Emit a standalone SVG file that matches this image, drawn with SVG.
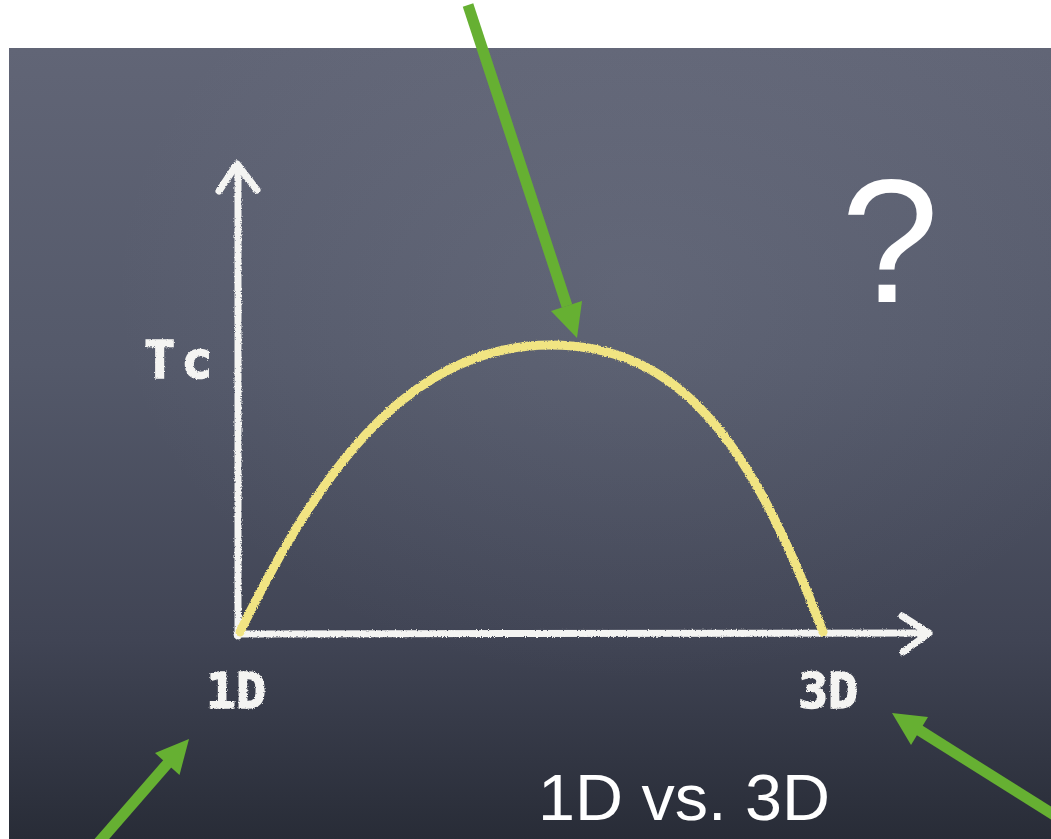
<svg xmlns="http://www.w3.org/2000/svg" width="1051" height="839" viewBox="0 0 1051 839">
<style>
.chalk{fill:none;stroke:#f4f4f2;stroke-width:7;stroke-linecap:round;stroke-linejoin:round;filter:url(#rough)}
.curve{fill:none;stroke:#f1e482;stroke-width:9;stroke-linecap:round;filter:url(#rough)}
.clabel{font-family:"DejaVu Sans Mono","Liberation Mono",monospace;font-weight:bold;fill:#f4f4f2;stroke:#f4f4f2;stroke-width:1.5;filter:url(#rough)}
.title{font-family:"Liberation Sans",Arial,sans-serif;fill:#ffffff}
.garrow{stroke:#66b032;stroke-width:11;fill:none}
.ghead{fill:#66b032}
</style>
<defs>
<linearGradient id="board" x1="0" y1="0" x2="0" y2="1">
<stop offset="0" stop-color="#616576"/>
<stop offset="0.4" stop-color="#54596a"/>
<stop offset="0.75" stop-color="#404454"/>
<stop offset="1" stop-color="#282c37"/>
</linearGradient>
<radialGradient id="haze" cx="0.6" cy="0.3" r="0.5">
<stop offset="0" stop-color="#8a8fa0" stop-opacity="0.18"/>
<stop offset="1" stop-color="#8a8fa0" stop-opacity="0"/>
</radialGradient>
<filter id="rough" filterUnits="userSpaceOnUse" x="0" y="0" width="1051" height="839">
<feTurbulence type="fractalNoise" baseFrequency="0.8" numOctaves="2" seed="3" result="n"/>
<feDisplacementMap in="SourceGraphic" in2="n" scale="3" xChannelSelector="R" yChannelSelector="G"/>
</filter>
</defs>
<rect x="0" y="0" width="1051" height="839" fill="#ffffff"/>
<g id="board-bg">
<rect x="9" y="48" width="1042" height="791" fill="url(#board)"/>
<rect x="9" y="48" width="1042" height="791" fill="url(#haze)"/>
</g>
<g id="axes">
<path class="chalk" d="M238,636 L238,166"/>
<path class="chalk" d="M219,191 L237,164 L257,190"/>
<path class="chalk" d="M237,634 L928,633"/>
<path class="chalk" d="M902,616 L929,633 L903,652"/>
</g>
<g id="curve">
<path class="curve" d="M240,632 C310,490 400,345 550,345 C680,345 750,440 823,632"/>
</g>
<g id="label-tc">
<text class="clabel" x="144" y="378" font-size="52">T<tspan dx="6">c</tspan></text>
</g>
<g id="label-1d">
<text class="clabel" x="206" y="708" font-size="50">1D</text>
</g>
<g id="label-3d">
<text class="clabel" x="798" y="708" font-size="50">3D</text>
</g>
<g id="question">
<text class="title" x="890" y="302" font-size="176" text-anchor="middle">?</text>
</g>
<g id="title">
<text class="title" x="538" y="820" font-size="64" textLength="292" lengthAdjust="spacingAndGlyphs">1D vs. 3D</text>
</g>
<g id="connectors">
<line class="garrow" x1="468" y1="5" x2="567" y2="306"/>
<polygon class="ghead" points="577,338 551,311 582,301"/>
<line class="garrow" x1="94" y1="848" x2="168" y2="763"/>
<polygon class="ghead" points="189,739 179.5,775 155,753"/>
<line class="garrow" x1="1062" y1="820" x2="919" y2="730"/>
<polygon class="ghead" points="892,713 928,717 911,745"/>
</g>
</svg>
